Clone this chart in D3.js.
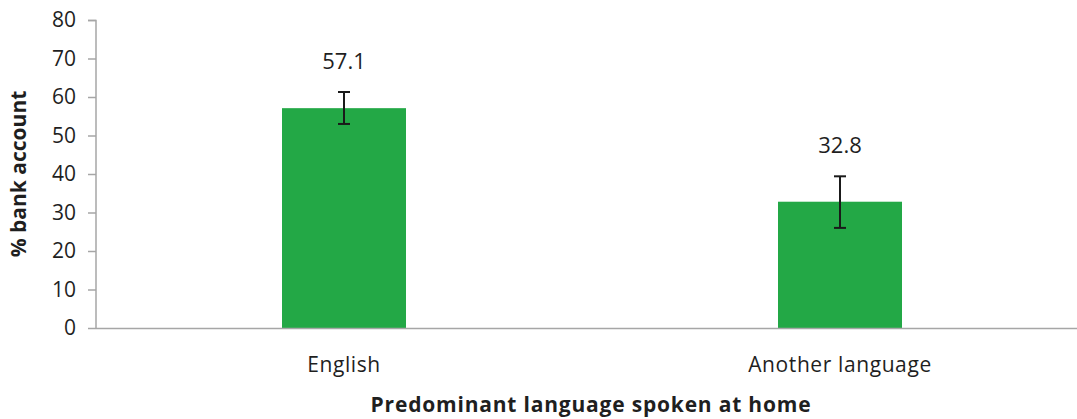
<!DOCTYPE html>
<html>
<head>
<meta charset="utf-8">
<script src="https://cdn.jsdelivr.net/npm/d3@7"></script>
<style>
  body { margin: 0; background: #fff; overflow: hidden; }
  svg { display: block; font-family: "Open Sans", sans-serif; }
</style>
</head>
<body>
<svg id="chart" width="1077" height="419"></svg>
<script>
// data
const categories = ["English", "Another language"];
const values = [57.1, 32.8];
const errUpper = [4.2, 6.6];
const errLower = [4.1, 6.8];
const yTicks = [0, 10, 20, 30, 40, 50, 60, 70, 80];

const margins = { top: 20, right: -11, bottom: 91, left: 96 };
const totalWidth = 1077;
const totalHeight = 419;
const innerWidth = totalWidth - margins.left - margins.right;
const innerHeight = totalHeight - margins.top - margins.bottom;

const svg = d3.select("#chart");
const chart = svg.append("g").attr("transform", `translate(${margins.left},${margins.top})`);

let xscale = d3.scaleBand(categories, [0, innerWidth]).paddingInner(0.75).paddingOuter(0.375);
let yscale = d3.scaleLinear([0, 80], [innerHeight, 0]);

// y axis
let yaxis = d3.axisLeft(yscale).tickValues(yTicks).tickSize(8).tickPadding(12);
let yg = chart.append("g").call(yaxis);
yg.select(".domain").attr("stroke", "#a6a6a6").attr("stroke-width", 1.5).attr("d", `M-8,0.5H0V${innerHeight}`);
yg.selectAll(".tick line").attr("stroke", "#a6a6a6").attr("stroke-width", 1.5);
yg.selectAll(".tick text").attr("fill", "#1f1f1f").style("font-size", "21px").style("font-family", "Open Sans");

// bars
chart.selectAll(".bars").data(values).enter()
  .append("rect")
  .attr("class", "bars")
  .attr("x", (d, i) => xscale(categories[i]))
  .attr("y", d => yscale(d))
  .attr("width", xscale.bandwidth())
  .attr("height", d => innerHeight - yscale(d))
  .attr("fill", "#23a846");

// x axis line
chart.append("line")
  .attr("x1", 0).attr("x2", innerWidth)
  .attr("y1", innerHeight + 0.5).attr("y2", innerHeight + 0.5)
  .attr("stroke", "#a6a6a6").attr("stroke-width", 1.5);

// error bars
let eb = chart.selectAll(".err").data(values).enter().append("g").attr("class", "err")
  .attr("stroke", "#1a1a1a").attr("stroke-width", 2);
eb.append("line")
  .attr("x1", (d, i) => xscale(categories[i]) + xscale.bandwidth() / 2)
  .attr("x2", (d, i) => xscale(categories[i]) + xscale.bandwidth() / 2)
  .attr("y1", (d, i) => yscale(d + errUpper[i]))
  .attr("y2", (d, i) => yscale(d - errLower[i]));
[errUpper, errLower].forEach((arr, k) => {
  eb.append("line")
    .attr("x1", (d, i) => xscale(categories[i]) + xscale.bandwidth() / 2 - 6)
    .attr("x2", (d, i) => xscale(categories[i]) + xscale.bandwidth() / 2 + 6)
    .attr("y1", (d, i) => yscale(k === 0 ? d + arr[i] : d - arr[i]))
    .attr("y2", (d, i) => yscale(k === 0 ? d + arr[i] : d - arr[i]));
});

// value labels
chart.selectAll(".vlabel").data(values).enter()
  .append("text")
  .attr("class", "vlabel")
  .attr("x", (d, i) => xscale(categories[i]) + xscale.bandwidth() / 2)
  .attr("y", (d, i) => yscale(d + errUpper[i]) - 23)
  .attr("text-anchor", "middle")
  .attr("fill", "#1f1f1f")
  .style("font-size", "22px")
  .text(d => d.toFixed(1));

// category labels
chart.selectAll(".clabel").data(categories).enter()
  .append("text")
  .attr("class", "clabel")
  .attr("x", d => xscale(d) + xscale.bandwidth() / 2)
  .attr("y", innerHeight + 44)
  .attr("text-anchor", "middle")
  .attr("fill", "#1f1f1f")
  .style("font-size", "21px")
  .style("letter-spacing", "0.6px")
  .text(d => d);

// axis titles
svg.append("text")
  .attr("x", 591).attr("y", 412)
  .attr("text-anchor", "middle")
  .attr("fill", "#1f1f1f")
  .style("font-size", "21px").style("font-weight", "bold")
  .style("letter-spacing", "0.8px")
  .text("Predominant language spoken at home");

svg.append("text")
  .attr("transform", `translate(26,${margins.top + innerHeight / 2}) rotate(-90)`)
  .attr("text-anchor", "middle")
  .attr("fill", "#1f1f1f")
  .style("font-size", "21px").style("font-weight", "bold")
  .text("% bank account");
</script>
</body>
</html>
